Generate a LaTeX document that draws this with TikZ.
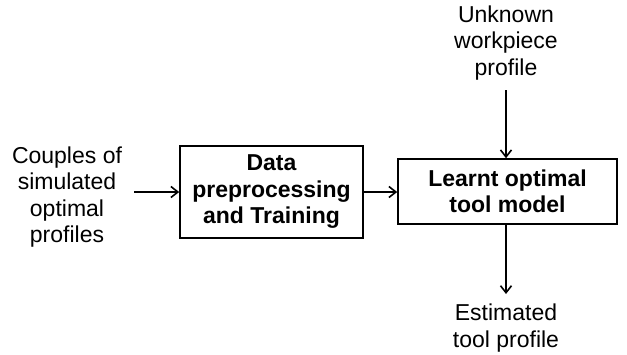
\documentclass[tikz,border=0pt]{standalone}
\usepackage{fontspec}
\setmainfont{Liberation Sans}
\usepackage{tikz}
\usetikzlibrary{arrows.meta,positioning}

\tikzset{
  blockbox/.style={draw, line width=1.6pt, align=center, font=\bfseries\fontsize{23}{26.5}\selectfont, inner sep=0pt},
  plaintext/.style={align=center, font=\fontsize{23}{26.5}\selectfont, inner sep=0pt},
  flow/.style={-{Straight Barb[length=7pt,width=11pt]}, line width=1.6pt}
}

\begin{document}
\begin{tikzpicture}[x=1pt,y=-1pt]
\useasboundingbox (0,0) rectangle (627,354);
% boxes
\node[blockbox, minimum width=183pt, minimum height=92pt] (train) at (271.5,192) {Data\\preprocessing\\and Training};
\node[blockbox, minimum width=219pt, minimum height=65pt] (model) at (507.5,191.5) {Learnt optimal\\tool model};
% texts
\node[plaintext] (couples) at (67,197) {Couples of\\simulated\\optimal\\profiles};
\node[plaintext] (unknown) at (506,43) {Unknown\\workpiece\\profile};
\node[plaintext] (estimated) at (506,328) {Estimated\\tool profile};
\coordinate (inA) at (134,192);
\coordinate (topB) at (506,90);
\coordinate (outB) at (506,294);
% arrows
\draw[flow] (inA) -- (inA -| train.west);
\draw[flow] (train.east |- 0,192) -- (model.west |- 0,192);
\draw[flow] (topB) -- (model.north -| topB);
\draw[flow] (model.south -| outB) -- (outB);
\end{tikzpicture}
\end{document}
